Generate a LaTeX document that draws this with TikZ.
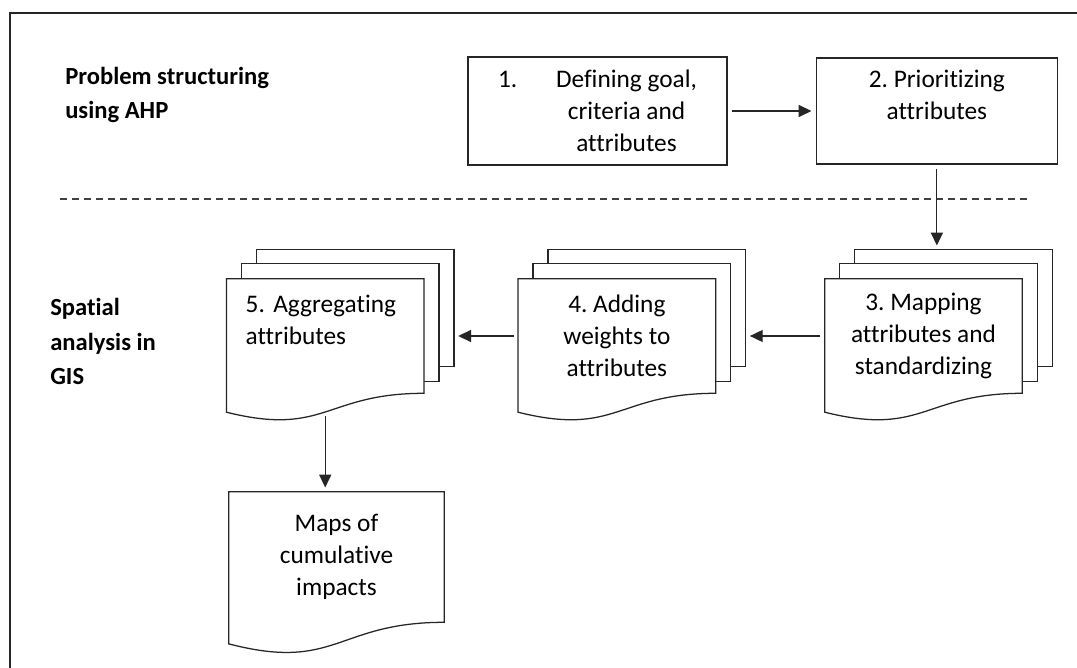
\documentclass[tikz,border=0pt]{standalone}
\usepackage{fontspec}
\setmainfont{Carlito}[Ligatures=NoCommon]
\usetikzlibrary{arrows.meta, positioning, calc, backgrounds}

% ---- back pages of a stacked document, behind node #1 ----
\newcommand\stackpages[1]{%
  \draw[page] ($(#1.north west)+(30,-29)$) coordinate (#1-btl)
    rectangle ($(#1.south east)+(30,-27)$) coordinate (#1-bbr);
  \draw[page] ($(#1.north west)+(15,-15)$)
    rectangle ($(#1.south east)+(15,-12)$);
}
% ---- document outline with wavy bottom for node #1 ----
\newcommand\docoutline[1]{%
  \draw[page] (#1.north west) -- (#1.north east) -- (#1.south east)
    .. controls (#1.south) and ($(#1.north)!1.38!(#1.south)$)
    .. ($(#1.north west)!1.165!(#1.south west)$) -- cycle;
}

\begin{document}
\frenchspacing
\begin{tikzpicture}[
  x=0.025cm, y=-0.025cm,
  font=\fontsize{18}{22.8}\selectfont,
  % ---- line and node styles ----
  ink/.style={draw=black!85, line width=0.9pt},
  page/.style={ink, fill=white},
  box/.style={ink, rectangle, align=center, inner sep=0pt},
  doc/.style={rectangle, inner sep=0pt, align=center,
    minimum width=4.925cm, minimum height=2.85cm},
  phase/.style={font=\fontsize{17.5}{24.5}\selectfont\bfseries,
    align=left, inner sep=0pt, anchor=north west},
  % ---- arrow styles ----
  flow/.style={ink, -{Triangle[length=0.32cm, width=0.3cm]},
    shorten <=3pt, shorten >=3pt},
  sep/.style={draw=black!75, line width=0.8pt,
    dash pattern=on 0.18cm off 0.12cm},
]
\useasboundingbox (0,0) rectangle (1077,668);

% ---- phase labels ----
\node[phase] (ahp) at (65,67) {Problem structuring\\using AHP};
\node[phase] (gis) at (50,298) {Spatial\\analysis in\\GIS};

% ---- AHP steps ----
\node[box, minimum width=6.475cm, minimum height=2.7cm] (goal) at (597.5,111)
  {\makebox[1.45cm][l]{1.}Defining goal,\\
   \hspace*{1.45cm}criteria and\\\hspace*{1.45cm}attributes};
\node[box, minimum width=6.025cm, minimum height=2.65cm, right=2.2cm of goal]
  (prior) {2. Prioritizing\\attributes\\~};

% ---- GIS steps (stacked documents) ----
\node[doc] (map) at (923.5,336) {3. Mapping\\attributes and\\standardizing};
\node[doc, left=2.725cm of map] (weight) {4. Adding\\weights to\\attributes};
\node[doc, left=2.35cm of weight, align=left, text width=3.975cm,
  inner xsep=0.475cm] (aggr) {5. Aggregating\\attributes\\~};
\node[doc, minimum width=5.375cm, minimum height=3.25cm] (impact)
  at (336.5,557) {Maps of\\cumulative\\impacts};
\coordinate (aggr-foot) at ($(aggr.north)!1.165!(aggr.south)$);

% ---- frame, pages and outlines behind the text ----
\begin{scope}[on background layer]
  \fill[white] (0,0) rectangle (1077,668);
  \draw[ink, line width=1.1pt] (1077,13) -- (10,13) -- (10,668);
  \foreach \s in {map, weight, aggr} {\stackpages{\s}\docoutline{\s}}
  \docoutline{impact}
\end{scope}

% ---- separator between the two phases ----
\draw[sep] (60,199) -- (1030,199);

% ---- flow ----
\draw[flow] (goal.east) -- (goal.east -| prior.west);
\draw[flow] (prior.south) -- (prior.south |- map-btl);
\draw[flow] (map.west) -- (map.west -| weight-bbr);
\draw[flow] (weight.west) -- (weight.west -| aggr-bbr);
\draw[flow] (aggr-foot) -- (aggr-foot |- impact.north);
\end{tikzpicture}
\end{document}
